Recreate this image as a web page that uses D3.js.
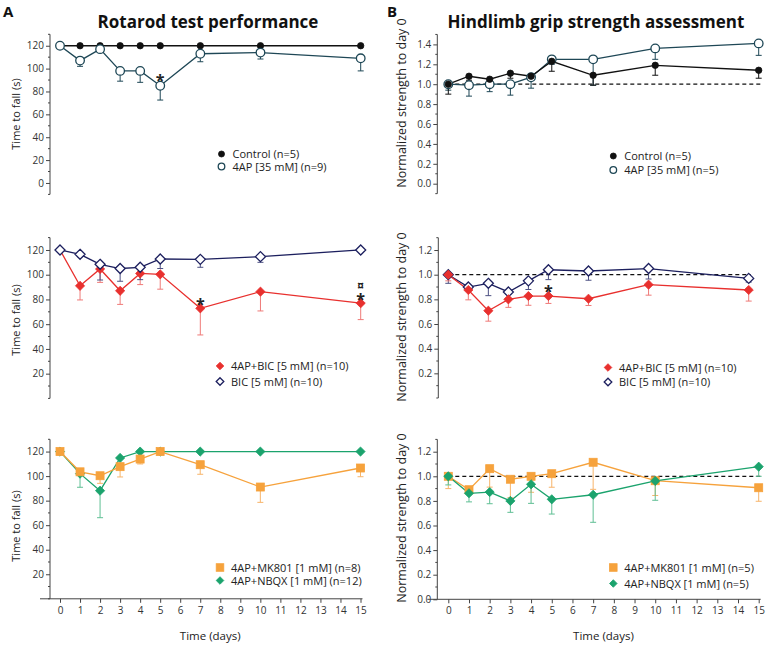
<!DOCTYPE html>
<html><head><meta charset="utf-8">
<script src="https://cdn.jsdelivr.net/npm/d3@7"></script>
<style>body{margin:0;background:#fff} text{font-family:"Open Sans",sans-serif;fill:#222}</style>
</head><body><svg id="c" width="768" height="646"></svg>
<script>
// ---------- data ----------
const days = [0, 1, 2, 3, 4, 5, 7, 10, 15];
const dayTicks = [0, 1, 2, 3, 4, 5, 6, 7, 8, 9, 10, 11, 12, 13, 14, 15];
const rotarodTicksTop = [0, 20, 40, 60, 80, 100, 120];
const rotarodTicks = [20, 40, 60, 80, 100, 120];
const gripTicksTop = [0.0, 0.2, 0.4, 0.6, 0.8, 1.0, 1.2, 1.4];
const gripTicksMid = [0.2, 0.4, 0.6, 0.8, 1.0, 1.2];
const gripTicksBot = [0.0, 0.2, 0.4, 0.6, 0.8, 1.0, 1.2];

const titles = ["Rotarod test performance", "Hindlimb grip strength assessment"];
const panelLetters = ["A", "B"];
const yTitles = ["Time to fall (s)", "Normalized strength to day 0"];
const xTitle = "Time (days)";

// Rotarod
const rotControl = [120, 120, 120, 120, 120, 120, 120, 120, 120];
const rotControlErr = [0, 0, 0, 0, 0, 0, 0, 0, 0];
const rot4AP = [120, 107, 117, 98, 98, 85, 113, 114, 109];
const rot4APErr = [0, 5, 2, 9, 10, 12.5, 7, 5.6, 11];
const rot4APBIC = [120, 91, 104.6, 87, 101, 100.3, 72.8, 86.3, 77];
const rot4APBICErr = [0, 11.4, 10.8, 11, 9, 12, 21.5, 15.6, 13.3];
const rotBIC = [120, 116.5, 108.4, 105, 106, 112.7, 112.4, 114.6, 120];
const rotBICErr = [0, 2, 12.7, 10.3, 10, 7.7, 6.4, 4.6, 0];
const rotMK801 = [120, 103.5, 100.3, 107.7, 113.9, 120, 109.3, 91.1, 106.6];
const rotMK801Err = [0, 3, 6.2, 8.4, 4, 0, 7.8, 12.5, 7.1];
const rotNBQX = [120, 102, 88.1, 114.8, 120, 120, 120, 120, 120];
const rotNBQXErr = [0, 11.1, 22, 0, 0, 0, 0, 0, 0];

// Grip strength
const gripControl = [1.00, 1.08, 1.05, 1.11, 1.08, 1.23, 1.09, 1.19, 1.14];
const gripControlErr = [0.10, 0.04, 0.03, 0.05, 0.04, 0.10, 0.10, 0.10, 0.08];
const grip4AP = [1.00, 0.99, 1.00, 1.00, 1.07, 1.25, 1.25, 1.36, 1.41];
const grip4APErr = [0.06, 0.11, 0.075, 0.11, 0.11, 0.05, 0.26, 0.11, 0.12];
const grip4APBIC = [1.00, 0.876, 0.708, 0.80, 0.827, 0.827, 0.805, 0.919, 0.876];
const grip4APBICErr = [0.05, 0.08, 0.085, 0.065, 0.075, 0.06, 0.055, 0.085, 0.09];
const gripBIC = [1.00, 0.90, 0.93, 0.86, 0.95, 1.04, 1.03, 1.05, 0.97];
const gripBICErr = [0.07, 0.02, 0.10, 0.02, 0.07, 0.08, 0.075, 0.085, 0.03];
const gripMK801 = [1.00, 0.891, 1.062, 0.976, 1.00, 1.021, 1.114, 0.964, 0.907];
const gripMK801Err = [0.10, 0.02, 0.15, 0.15, 0.13, 0.11, 0.22, 0.12, 0.11];
const gripNBQX = [1.00, 0.862, 0.872, 0.80, 0.935, 0.813, 0.85, 0.962, 1.078];
const gripNBQXErr = [0.07, 0.07, 0.095, 0.093, 0.155, 0.12, 0.224, 0.157, 0.078];

const legendLabels = {
  rotTop: ["Control (n=5)", "4AP [35 mM] (n=9)"],
  gripTop: ["Control (n=5)", "4AP [35 mM] (n=5)"],
  rotMid: ["4AP+BIC [5 mM] (n=10)", "BIC [5 mM] (n=10)"],
  gripMid: ["4AP+BIC [5 mM] (n=10)", "BIC [5 mM] (n=10)"],
  rotBot: ["4AP+MK801 [1 mM] (n=8)", "4AP+NBQX [1 mM] (n=12)"],
  gripBot: ["4AP+MK801 [1 mM] (n=5)", "4AP+NBQX [1 mM] (n=5)"]
};

// ---------- styles ----------
const S = {
  control: {shape: "circle", r: 3.2, fill: "#111", stroke: "#111", line: "#111", err: "#111"},
  ap: {shape: "circle", r: 4.3, fill: "#fff", stroke: "#1e4756", line: "#1e4756", err: "#1e4756"},
  apbic: {shape: "diamond", r: 4.6, fill: "#e8302e", stroke: "#e8302e", line: "#e8302e", err: "#ef7a78"},
  bic: {shape: "diamond", r: 5, fill: "#fff", stroke: "#1c1f5e", line: "#1c1f5e", err: "#4d5183"},
  mk: {shape: "square", r: 4, fill: "#f6a23c", stroke: "#f6a23c", line: "#f6a23c", err: "#f7b46a"},
  nbqx: {shape: "diamond", r: 4.6, fill: "#1ba36d", stroke: "#1ba36d", line: "#1ba36d", err: "#5fbf94"}
};

// series listed in drawing order; legendOrder lists series index per legend row
const panels = [
  {x0: 60, x1: 360.7, axisX: 50, yTop: 34.3, yBot: 194.4, dom: [-10, 130], ticks: rotarodTicksTop, minor: 10, fmt: d3.format("d"),
   series: [[rotControl, rotControlErr, S.control], [rot4AP, rot4APErr, S.ap]], legend: legendLabels.rotTop, legendOrder: [0, 1],
   lx: 221.5, ly: 154, ldy: 12.5, yTitleY: 114, col: 0,
   marks: [{txt: "*", si: 1, di: 5, dy: 0.5}]},
  {x0: 448.3, x1: 758.7, axisX: 437.3, yTop: 34.45, yBot: 193.65, dom: [-0.1, 1.5], ticks: gripTicksTop, minor: 0.1, fmt: d3.format(".1f"),
   series: [[grip4AP, grip4APErr, S.ap], [gripControl, gripControlErr, S.control]], legend: legendLabels.gripTop, legendOrder: [1, 0],
   lx: 613.3, ly: 156, ldy: 14, yTitleY: 103, col: 1, dashed: true, marks: []},
  {x0: 60, x1: 360.7, axisX: 50, yTop: 237.6, yBot: 398.4, dom: [0, 130], ticks: rotarodTicks, minor: 10, fmt: d3.format("d"),
   series: [[rot4APBIC, rot4APBICErr, S.apbic], [rotBIC, rotBICErr, S.bic]], legend: legendLabels.rotMid, legendOrder: [0, 1],
   lx: 220, ly: 366, ldy: 15.5, yTitleY: 320, col: 0,
   marks: [{txt: "*", si: 0, di: 6, dy: 1.5}, {txt: "*", si: 0, di: 8, dy: 2}, {txt: "¤", si: 0, di: 8, dy: -13}]},
  {x0: 448.3, x1: 748.7, axisX: 438.3, yTop: 237.7, yBot: 398, dom: [0, 1.3], ticks: gripTicksMid, minor: 0.1, fmt: d3.format(".1f"),
   series: [[gripBIC, gripBICErr, S.bic], [grip4APBIC, grip4APBICErr, S.apbic]], legend: legendLabels.gripMid, legendOrder: [1, 0],
   lx: 608, ly: 367.5, ldy: 14.5, yTitleY: 317, col: 1, dashed: true,
   marks: [{txt: "*", si: 0, di: 5, dy: 27}]},
  {x0: 60, x1: 360.5, axisX: 50, yTop: 439.3, yBot: 598.8, dom: [0, 130], ticks: rotarodTicks, minor: 10, fmt: d3.format("d"),
   series: [[rotNBQX, rotNBQXErr, S.nbqx], [rotMK801, rotMK801Err, S.mk]], legend: legendLabels.rotBot, legendOrder: [1, 0],
   lx: 220, ly: 567.5, ldy: 13, yTitleY: 526, col: 0, xAxis: true, marks: []},
  {x0: 448.3, x1: 758.7, axisX: 437.3, yTop: 439.4, yBot: 599.3, dom: [0, 1.3], ticks: gripTicksBot, minor: 0.1, fmt: d3.format(".1f"),
   series: [[gripMK801, gripMK801Err, S.mk], [gripNBQX, gripNBQXErr, S.nbqx]], legend: legendLabels.gripBot, legendOrder: [0, 1],
   lx: 613.3, ly: 567.5, ldy: 16, yTitleY: 518, col: 1, dashed: true, xAxis: true, marks: []}
];

const svg = d3.select("#c");
const axisColor = "#444";

function drawMarker(g, shape, cx, cy, st) {
  let m;
  if (shape === "circle") {
    m = g.append("circle").attr("cx", cx).attr("cy", cy).attr("r", st.r);
  } else if (shape === "square") {
    m = g.append("rect").attr("x", cx - st.r).attr("y", cy - st.r).attr("width", 2 * st.r).attr("height", 2 * st.r);
  } else {
    const r = st.r;
    m = g.append("path").attr("d", `M${cx},${cy - r}L${cx + r},${cy}L${cx},${cy + r}L${cx - r},${cy}Z`);
  }
  m.attr("fill", st.fill).attr("stroke", st.stroke).attr("stroke-width", st.fill === "#fff" ? 1.3 : 0.8);
  return m;
}

// titles
titles.forEach((t, i) => {
  svg.append("text").attr("x", i === 0 ? 208 : 596).attr("y", 27.5).attr("text-anchor", "middle")
    .attr("font-size", 17).attr("font-weight", "bold").style("fill", "#111").text(t);
  svg.append("text").attr("x", i === 0 ? 3 : 387).attr("y", 17).attr("font-size", 15)
    .attr("font-weight", "bold").style("fill", "#111").text(panelLetters[i]);
});

panels.forEach(p => {
  const g = svg.append("g");
  const x = d3.scaleLinear().domain([0, 15]).range([p.x0, p.x1]);
  const y = d3.scaleLinear().domain(p.dom).range([p.yBot, p.yTop]);

  // y axis
  const yAxis = d3.axisLeft(y).tickValues(p.ticks).tickFormat(p.fmt).tickSize(4).tickPadding(2);
  const ga = g.append("g").attr("transform", `translate(${p.axisX},0)`).call(yAxis);
  ga.select(".domain").attr("d", `M0,${p.yTop}V${p.yBot}`).attr("stroke", axisColor);
  ga.selectAll(".tick line").attr("stroke", axisColor);
  ga.selectAll(".tick text").attr("font-size", 10).style("fill", "#333").style("font-family", '"Open Sans",sans-serif');
  // minor ticks
  const minorVals = d3.range(p.dom[0], p.dom[1] + 1e-9, p.minor).filter(v => !p.ticks.some(t => Math.abs(t - v) < 1e-6));
  g.selectAll(null).data(minorVals).join("line")
    .attr("x1", p.axisX - 2).attr("x2", p.axisX).attr("y1", d => y(d)).attr("y2", d => y(d))
    .attr("stroke", axisColor);

  // y title
  svg.append("text").attr("transform", `translate(${p.col === 0 ? 20 : 406},${p.yTitleY}) rotate(-90)`)
    .attr("text-anchor", "middle").attr("font-size", p.col === 0 ? 11 : 12.5).style("fill", "#222").text(yTitles[p.col]);

  // x axis
  if (p.xAxis) {
    const xAxis = d3.axisBottom(x).tickValues(dayTicks).tickFormat(d3.format("d")).tickSize(4).tickPadding(4);
    const gx = g.append("g").attr("transform", `translate(0,${p.yBot})`).call(xAxis);
    gx.select(".domain").attr("d", `M${p.axisX - 10},0H${p.x1 + 2}`).attr("stroke", axisColor);
    gx.selectAll(".tick line").attr("stroke", axisColor);
    gx.selectAll(".tick text").attr("font-size", 10).style("fill", "#333").style("font-family", '"Open Sans",sans-serif');
    svg.append("text").attr("x", (p.x0 + p.x1) / 2).attr("y", 640).attr("text-anchor", "middle")
      .attr("font-size", 11.5).style("fill", "#222").text(xTitle);
  }

  // dashed reference line
  if (p.dashed) {
    g.append("line").attr("x1", x(0)).attr("x2", x(15) + 2).attr("y1", y(1)).attr("y2", y(1))
      .attr("stroke", "#111").attr("stroke-width", 1.2).attr("stroke-dasharray", "4,3");
  }

  // error bars
  p.series.forEach(([vals, errs, st]) => {
    days.forEach((d, i) => {
      if (!errs[i]) return;
      const cx = x(d), y1 = y(vals[i]), y2 = y(vals[i] - errs[i]);
      g.append("line").attr("x1", cx).attr("x2", cx).attr("y1", y1).attr("y2", y2).attr("stroke", st.err).attr("stroke-width", 1);
      g.append("line").attr("x1", cx - 3).attr("x2", cx + 3).attr("y1", y2).attr("y2", y2).attr("stroke", st.err).attr("stroke-width", 1);
    });
  });
  // lines
  p.series.forEach(([vals, errs, st]) => {
    const line = d3.line().x((d, i) => x(days[i])).y(d => y(d));
    g.append("path").attr("d", line(vals)).attr("fill", "none").attr("stroke", st.line).attr("stroke-width", 1.3);
  });
  // markers
  p.series.forEach(([vals, errs, st]) => {
    vals.forEach((v, i) => drawMarker(g, st.shape, x(days[i]), y(v), st));
  });

  // significance marks (dy: baseline offset from the point)
  p.marks.forEach(m => {
    const [vals] = p.series[m.si];
    g.append("text").attr("x", x(days[m.di])).attr("y", y(vals[m.di]) + m.dy).attr("text-anchor", "middle")
      .attr("font-size", m.txt === "*" ? 16 : 12.5).attr("font-weight", "bold").style("fill", "#222").text(m.txt);
  });

  // legend
  p.legendOrder.forEach((si, k) => {
    const st = p.series[si][2];
    const cy = p.ly + k * p.ldy;
    const legSt = Object.assign({}, st, {r: st.shape === "circle" ? (st.fill === "#fff" ? 3.3 : 3) : 3.8});
    drawMarker(g, st.shape, p.lx, cy, legSt);
    g.append("text").attr("x", p.lx + 11).attr("y", cy + 4).attr("font-size", 11).style("fill", "#222").text(p.legend[k]);
  });
});
</script></body></html>
